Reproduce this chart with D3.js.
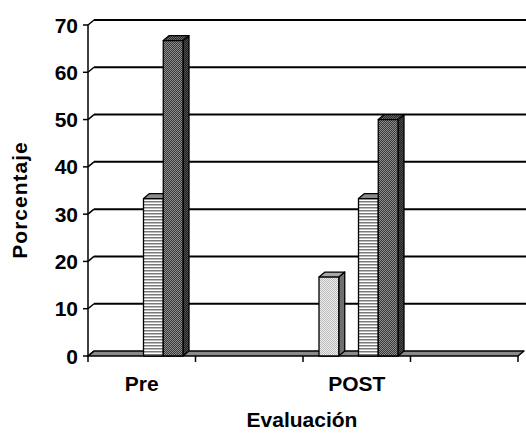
<!DOCTYPE html>
<html>
<head>
<meta charset="utf-8">
<script src="https://cdn.jsdelivr.net/npm/d3@7"></script>
<style>
  body { margin: 0; background: #fff; }
  svg { display: block; }
  text { font-family: "Liberation Sans", Arial, sans-serif; font-weight: bold; fill: #000; }
</style>
</head>
<body>
<svg id="chart" width="526" height="433"></svg>
<script>
// Categories along the x axis (labels shown on every other category)
const categories = ["Pre", "", "POST", ""];
// Series values (percent)
const seriesA = [0, 0, 16.7, 0];     // light dotted
const seriesB = [0, 0, 0, 0];        // empty series
const seriesC = [33.3, 0, 33.3, 0];  // horizontal stripes
const seriesD = [66.7, 0, 50, 0];    // dark crosshatch
const seriesNames = ["A", "B", "C", "D"];
const yTicks = [0, 10, 20, 30, 40, 50, 60, 70];

const svg = d3.select("#chart");
const defs = svg.append("defs");

// Fill patterns for the front faces
function checker(id, c1, c2, size) {
  const p = defs.append("pattern").attr("id", id).attr("patternUnits", "userSpaceOnUse")
    .attr("width", size * 2).attr("height", size * 2);
  p.append("rect").attr("width", size * 2).attr("height", size * 2).attr("fill", c1);
  p.append("rect").attr("width", size).attr("height", size).attr("fill", c2);
  p.append("rect").attr("x", size).attr("y", size).attr("width", size).attr("height", size).attr("fill", c2);
}
checker("patA", "#f0f0f0", "#b8b8b8", 1);
checker("patD", "#3a3a3a", "#8c8c8c", 1);
checker("patDtop", "#2a2a2a", "#6a6a6a", 1);
checker("patDside", "#1e1e1e", "#505050", 1);
{
  const p = defs.append("pattern").attr("id", "patC").attr("patternUnits", "userSpaceOnUse")
    .attr("width", 4).attr("height", 3);
  p.append("rect").attr("width", 4).attr("height", 3).attr("fill", "#ffffff");
  p.append("rect").attr("width", 4).attr("height", 1.5).attr("fill", "#7a7a7a");
}

const faces = {
  A: { front: "url(#patA)", top: "#a8a8a8", side: "#707070" },
  B: { front: "#999", top: "#999", side: "#777" },
  C: { front: "url(#patC)", top: "#8a8a8a", side: "#5a5a5a" },
  D: { front: "url(#patD)", top: "url(#patDtop)", side: "url(#patDside)" }
};

const depthX = 6, depthY = -5;
const x0 = 88, x1 = 518;

const x = d3.scaleBand().domain(d3.range(categories.length)).range([x0, x1]).padding(0);
const xs = d3.scaleBand().domain(seriesNames).range([16, 95]).padding(0);
const y = d3.scaleLinear().domain([0, 70]).range([356, 25]);

const values = { A: seriesA, B: seriesB, C: seriesC, D: seriesD };

// Back-wall gridlines
svg.append("g").selectAll("line").data(yTicks.filter(t => t > 0)).join("line")
  .attr("x1", x0 + depthX).attr("x2", 526)
  .attr("y1", d => y(d) + depthY).attr("y2", d => y(d) + depthY)
  .attr("stroke", "#000").attr("stroke-width", 2);

// Floor
svg.append("path")
  .attr("d", d3.line()([[x0, y(0)], [x1, y(0)], [x1 + depthX, y(0) + depthY], [x0 + depthX, y(0) + depthY]]) + "Z")
  .attr("fill", "#8a8a8a").attr("stroke", "#000").attr("stroke-width", 1.5).attr("stroke-linejoin", "round");

// 3D columns
const bars = [];
categories.forEach((c, i) => {
  seriesNames.forEach(s => {
    const v = values[s][i];
    if (v > 0) bars.push({ i, s, v });
  });
});
const bg = svg.append("g");
bars.forEach(b => {
  const bx = x(b.i) + xs(b.s);
  const bw = xs.bandwidth();
  const top = y(b.v), bot = y(0);
  const f = faces[b.s];
  const g = bg.append("g").attr("stroke", "#000").attr("stroke-width", 1.3).attr("stroke-linejoin", "round");
  // right side
  g.append("path").attr("fill", f.side)
    .attr("d", d3.line()([[bx + bw, top], [bx + bw + depthX, top + depthY], [bx + bw + depthX, bot + depthY], [bx + bw, bot]]) + "Z");
  // top
  g.append("path").attr("fill", f.top)
    .attr("d", d3.line()([[bx, top], [bx + depthX, top + depthY], [bx + bw + depthX, top + depthY], [bx + bw, top]]) + "Z");
  // front
  g.append("rect").attr("x", bx).attr("y", top).attr("width", bw).attr("height", bot - top).attr("fill", f.front);
});

// Y axis with diagonal connectors to the back wall
const ya = svg.append("g").attr("stroke", "#000").attr("stroke-width", 1.5);
ya.append("line").attr("x1", x0).attr("x2", x0).attr("y1", y(0)).attr("y2", y(70));
ya.selectAll(".tk").data(yTicks).join("line").attr("class", "tk")
  .attr("x1", x0 - 5).attr("x2", x0).attr("y1", d => y(d)).attr("y2", d => y(d));
ya.selectAll(".dg").data(yTicks).join("line").attr("class", "dg")
  .attr("x1", x0).attr("x2", x0 + depthX).attr("y1", d => y(d)).attr("y2", d => y(d) + depthY);

svg.append("g").selectAll("text").data(yTicks).join("text")
  .attr("x", 78).attr("y", d => y(d)).attr("dy", "0.36em")
  .attr("text-anchor", "end").attr("font-size", 21).text(d => d);

// X axis tick marks at category boundaries
const boundaries = d3.range(categories.length + 1).map(i => x0 + i * x.bandwidth());
svg.append("g").selectAll("line").data(boundaries).join("line")
  .attr("x1", d => d).attr("x2", d => d).attr("y1", y(0)).attr("y2", y(0) + 6)
  .attr("stroke", "#000").attr("stroke-width", 1.5);

svg.append("g").selectAll("text").data(categories).join("text")
  .attr("x", (d, i) => x(i) + x.bandwidth() / 2).attr("y", 391)
  .attr("text-anchor", "middle").attr("font-size", 21).text(d => d);

// Axis titles
svg.append("text").attr("x", 302).attr("y", 427).attr("text-anchor", "middle")
  .attr("font-size", 21).text("Evaluación");
svg.append("text").attr("transform", "translate(27,200) rotate(-90)")
  .attr("text-anchor", "middle").attr("font-size", 21).attr("letter-spacing", 1).text("Porcentaje");
</script>
</body>
</html>
